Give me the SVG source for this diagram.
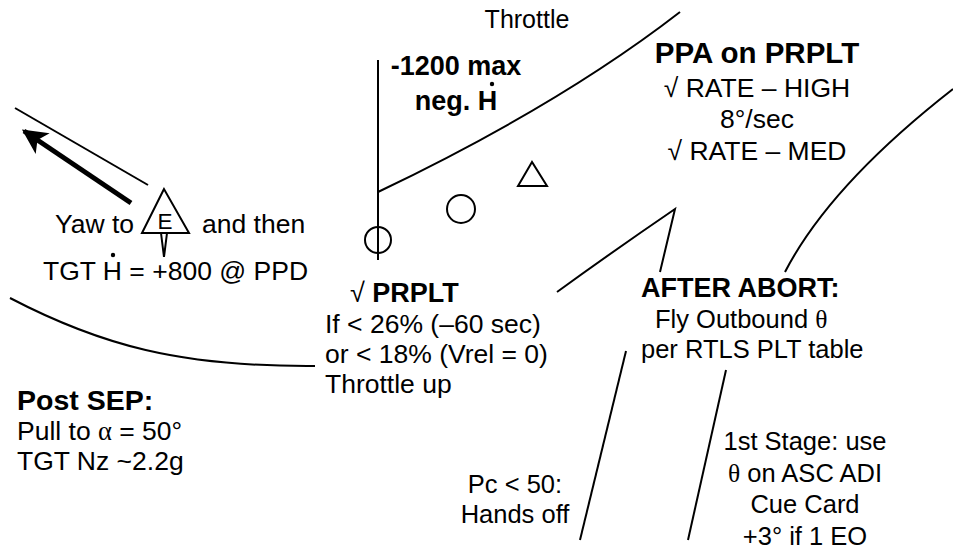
<svg xmlns="http://www.w3.org/2000/svg" width="953" height="551" viewBox="0 0 953 551">
<style>
text{font-family:"Liberation Sans",Arial,sans-serif;font-size:26.5px;fill:#000}
.b{font-weight:bold;font-size:27px}
.c{text-anchor:middle}
.s{font-size:25.5px}
.g{font-family:"Liberation Serif","Times New Roman",serif}
.ln{fill:none;stroke:#000;stroke-width:2}
.sh{fill:none;stroke:#000;stroke-width:2}
</style>
<defs>
<marker id="ah" viewBox="0 0 10 10" refX="9" refY="5" markerWidth="5.5" markerHeight="5" orient="auto" markerUnits="strokeWidth">
<path d="M0,0 L10,5 L0,10 L2.5,5 Z" fill="#000"/>
</marker>
</defs>
<rect width="953" height="551" fill="#fff"/>
<g id="connectors">
<line class="ln" x1="15" y1="108" x2="148" y2="185"/>
<line x1="131" y1="203" x2="24" y2="131" stroke="#000" stroke-width="5" marker-end="url(#ah)"/>
<path class="ln" d="M10,298 C100,345 180,367 315,366"/>
<line class="ln" x1="378" y1="60" x2="378" y2="260"/>
<path class="ln" d="M378,192 Q560,105 680,12"/>
<path class="ln" d="M557,292 Q612,252 675,209 L660,272"/>
<path class="ln" d="M953,89 Q830,185 785,272"/>
<line class="ln" x1="626" y1="351" x2="580" y2="540"/>
<line class="ln" x1="726" y1="370" x2="688" y2="540"/>
</g>
<g id="node-throttle"><text class="c" x="527" y="28" style="font-size:25px">Throttle</text></g>
<g id="node-maxneg">
<text class="b c" x="456" y="75">-1200 max</text>
<text class="b c" x="456" y="110">neg. H</text>
<circle cx="492" cy="84" r="2.2" fill="#000"/>
</g>
<g id="node-symbols">
<circle class="sh" cx="378" cy="240" r="13"/>
<circle class="sh" cx="461" cy="209" r="14"/>
<polygon class="sh" points="532,162 518,186 547,186"/>
</g>
<g id="node-ppa">
<text class="b c" x="757" y="63" style="font-size:29.5px">PPA on PRPLT</text>
<text class="c" x="757" y="97">√ RATE – HIGH</text>
<text class="c" x="757" y="128">8°/sec</text>
<text class="c" x="757" y="160">√ RATE – MED</text>
</g>
<g id="node-yaw">
<polygon class="sh" points="164,189 142,233 189,233"/>
<polygon class="sh" points="161,233 164,257 167,233"/>
<text class="c" x="165" y="229" style="font-size:22.5px">E</text>
<text x="55" y="233">Yaw to</text>
<text x="202" y="233">and then</text>
<text x="43" y="280">TGT H = +800 @ PPD</text>
<circle cx="113" cy="255" r="2.2" fill="#000"/>
</g>
<g id="node-prplt">
<text x="350" y="302" class="b"><tspan style="font-weight:normal">√</tspan> PRPLT</text>
<text x="325" y="333">If &lt; 26% (–60 sec)</text>
<text x="325" y="363">or &lt; 18% (Vrel = 0)</text>
<text x="325" y="393">Throttle up</text>
</g>
<g id="node-abort">
<text class="b" x="641" y="297">AFTER ABORT:</text>
<text class="s" x="655" y="328">Fly Outbound <tspan class="g">θ</tspan></text>
<text class="s" x="641" y="358">per RTLS PLT table</text>
</g>
<g id="node-postsep">
<text class="b" x="17" y="410" style="font-size:28.5px">Post SEP:</text>
<text x="17" y="440">Pull to <tspan class="g">α</tspan> = 50°</text>
<text x="17" y="470">TGT Nz ~2.2g</text>
</g>
<g id="node-pc">
<text class="c s" x="515" y="493">Pc &lt; 50:</text>
<text class="c s" x="515" y="523">Hands off</text>
</g>
<g id="node-stage">
<text class="c s" x="805" y="450">1st Stage: use</text>
<text class="c s" x="805" y="482"><tspan class="g">θ</tspan> on ASC ADI</text>
<text class="c s" x="805" y="513">Cue Card</text>
<text class="c s" x="805" y="545">+3° if 1 EO</text>
</g>
</svg>
